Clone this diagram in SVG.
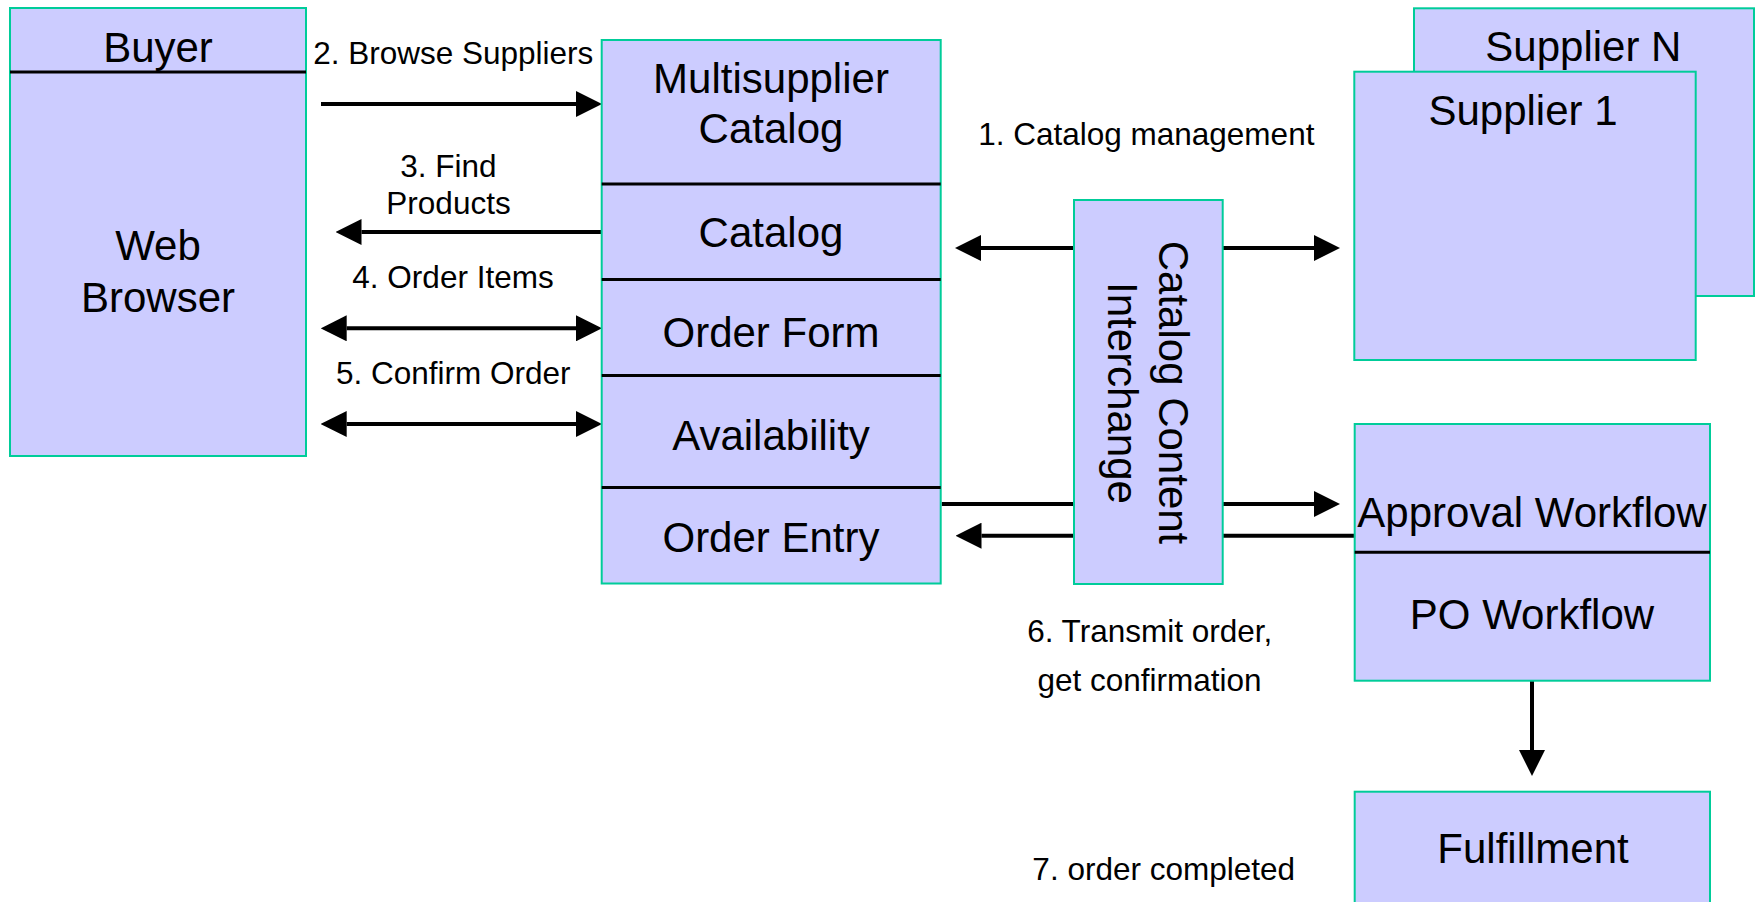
<svg xmlns="http://www.w3.org/2000/svg" width="1756" height="902" viewBox="0 0 1756 902">
  <style>
    .box { fill: #CCCCFF; stroke: #00CC99; stroke-width: 2; }
    .div { stroke: #000; stroke-width: 3; }
    .big { font-family: "Liberation Sans", Arial, sans-serif; font-size: 42px; fill: #000; text-anchor: middle; }
    .small { font-family: "Liberation Sans", Arial, sans-serif; font-size: 31.5px; fill: #000; text-anchor: middle; }
    .conn { stroke: #000; stroke-width: 4; fill: none; }
  </style>
  <defs>
    <marker id="ah" markerUnits="userSpaceOnUse" markerWidth="26" markerHeight="26" viewBox="0 0 25 25" refX="0" refY="12.5" orient="auto-start-reverse">
      <path d="M0,0 L25,12.5 L0,25 z" fill="#000"/>
    </marker>
  </defs>
  <rect width="1756" height="902" fill="#fff"/>

  <g id="connectors">
    <line class="conn" x1="321" y1="104" x2="576" y2="104" marker-end="url(#ah)"/>
    <line class="conn" x1="601" y1="232" x2="361.5" y2="232" marker-end="url(#ah)"/>
    <line class="conn" x1="346.7" y1="328.3" x2="576" y2="328.3" marker-start="url(#ah)" marker-end="url(#ah)"/>
    <line class="conn" x1="346.7" y1="424" x2="576" y2="424" marker-start="url(#ah)" marker-end="url(#ah)"/>
    <line class="conn" x1="981" y1="248" x2="1314" y2="248" marker-start="url(#ah)" marker-end="url(#ah)"/>
    <line class="conn" x1="941.7" y1="504" x2="1314" y2="504" marker-end="url(#ah)"/>
    <line class="conn" x1="1355" y1="535.7" x2="981.5" y2="535.7" marker-end="url(#ah)"/>
    <line class="conn" x1="1532" y1="681" x2="1532" y2="750" marker-end="url(#ah)"/>
  </g>

  <g id="buyer">
    <rect class="box" x="10" y="8" width="296" height="448"/>
    <line class="div" x1="10" y1="72" x2="306" y2="72"/>
    <text class="big" x="158" y="62">Buyer</text>
    <text class="big" x="158" y="260">Web</text>
    <text class="big" x="158" y="312">Browser</text>
  </g>

  <g id="catalog-stack">
    <rect class="box" x="601.7" y="40" width="339" height="543.5"/>
    <line class="div" x1="601.7" y1="184" x2="940.7" y2="184"/>
    <line class="div" x1="601.7" y1="279.5" x2="940.7" y2="279.5"/>
    <line class="div" x1="601.7" y1="375.5" x2="940.7" y2="375.5"/>
    <line class="div" x1="601.7" y1="487.5" x2="940.7" y2="487.5"/>
    <text class="big" x="771" y="93.3">Multisupplier</text>
    <text class="big" x="771" y="143.3">Catalog</text>
    <text class="big" x="771" y="246.7">Catalog</text>
    <text class="big" x="771" y="347.3">Order Form</text>
    <text class="big" x="771" y="450.4">Availability</text>
    <text class="big" x="771" y="552.3">Order Entry</text>
  </g>

  <g id="cci">
    <rect class="box" x="1074" y="200" width="148.7" height="384"/>
    <text class="big" transform="translate(1159,392.5) rotate(90)">Catalog Content</text>
    <text class="big" transform="translate(1107.5,393) rotate(90)">Interchange</text>
  </g>

  <g id="supplier-n">
    <rect class="box" x="1414" y="8.3" width="340" height="287.7"/>
    <text class="big" x="1583.4" y="61">Supplier N</text>
  </g>

  <g id="supplier-1">
    <rect class="box" x="1354.3" y="71.7" width="341.4" height="288.3"/>
    <text class="big" x="1523" y="125">Supplier 1</text>
  </g>

  <g id="workflow">
    <rect class="box" x="1354.7" y="424" width="355.3" height="256.7"/>
    <line class="div" x1="1354.7" y1="552.3" x2="1710" y2="552.3"/>
    <text class="big" x="1532" y="526.7">Approval Workflow</text>
    <text class="big" x="1532" y="629.3">PO Workflow</text>
  </g>

  <g id="fulfillment">
    <rect class="box" x="1354.7" y="791.7" width="355.3" height="120"/>
    <text class="big" x="1533" y="863.3">Fulfillment</text>
  </g>

  <g id="labels">
    <text class="small" x="453.3" y="64.3">2. Browse Suppliers</text>
    <text class="small" x="448.5" y="176.7">3. Find</text>
    <text class="small" x="448.5" y="214">Products</text>
    <text class="small" x="453" y="288.3">4. Order Items</text>
    <text class="small" x="453.3" y="384.3">5. Confirm Order</text>
    <text class="small" x="1146.3" y="145">1. Catalog management</text>
    <text class="small" x="1149.7" y="641.7">6. Transmit order,</text>
    <text class="small" x="1149.5" y="690.7">get confirmation</text>
    <text class="small" x="1163.7" y="880">7. order completed</text>
  </g>
</svg>
